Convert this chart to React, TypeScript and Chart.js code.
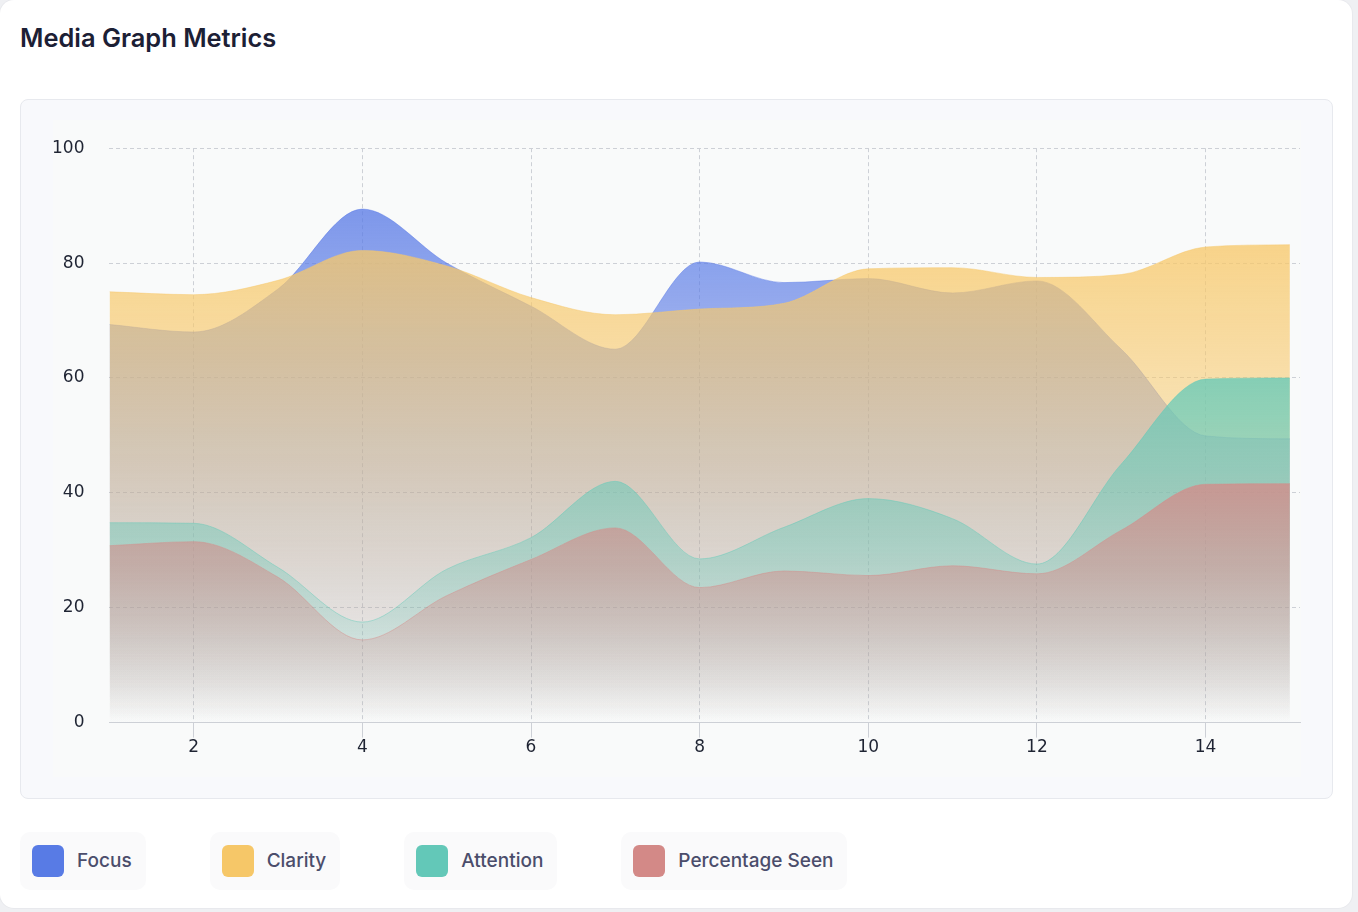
import { useEffect, useRef } from "react";
import { Chart, registerables } from "chart.js";

Chart.register(...registerables);

const xValues = [1, 2, 3, 4, 5, 6, 7, 8, 9, 10, 11, 12, 13, 14, 15];
const focus = [69.3, 68, 75.5, 89.4, 80, 72.5, 65, 80.2, 76.6, 77.3, 74.8, 76.9, 65, 49.9, 49.4];
const clarity = [75, 74.5, 77, 82.2, 79.5, 74, 71, 72, 73, 79, 79.2, 77.5, 78, 82.8, 83.2];
const attention = [34.8, 34.7, 27, 17.5, 26.7, 32.2, 42, 28.5, 34, 39, 35.5, 27.6, 45, 59.8, 60];
const percentageSeen = [30.8, 31.5, 25.3, 14.4, 22.1, 28.4, 33.9, 23.5, 26.4, 25.6, 27.3, 25.9, 33.5, 41.5, 41.6];
const yTicks = [0, 20, 40, 60, 80, 100];

const seriesNames = ["Focus", "Clarity", "Attention", "Percentage Seen"];
const seriesRgb = ["90,123,230", "247,200,106", "100,201,184", "212,138,136"];
const swatchColors = ["#587be5", "#f6c768", "#63c8b8", "#d38987"];

const gridColor = "#cdd0d6";
const tickFont = { family: "'DejaVu Sans', sans-serif", size: 17 };

// gradient runs from the series' own peak down to the x axis
function fillFor(rgb: string) {
  return (ctx: any) => {
    const chart = ctx.chart;
    const area = chart.chartArea;
    const yScale = chart.scales?.y;
    if (!area || !yScale) return `rgba(${rgb},0.5)`;
    const peak = Math.max(...ctx.dataset.data.map((p: any) => p.y));
    const top = yScale.getPixelForValue(peak);
    const g = chart.ctx.createLinearGradient(0, top, 0, area.bottom);
    g.addColorStop(0, `rgba(${rgb},0.78)`);
    g.addColorStop(1, `rgba(${rgb},0)`);
    return g;
  };
}

function MetricsChart() {
  const canvasRef = useRef<HTMLCanvasElement | null>(null);

  useEffect(() => {
    if (!canvasRef.current) return;
    const ctx = canvasRef.current.getContext("2d");
    if (!ctx) return;

    const series = [focus, clarity, attention, percentageSeen];

    const chart = new Chart(ctx, {
      type: "line",
      data: {
        datasets: series.map((values, i) => ({
          label: seriesNames[i],
          data: values.map((v, j) => ({ x: xValues[j], y: v })),
          // first series at the bottom of the stack, last on top
          order: series.length - i,
          fill: "origin",
          backgroundColor: fillFor(seriesRgb[i]),
          borderColor: `rgba(${seriesRgb[i]},0.45)`,
          borderWidth: 1,
          pointRadius: 0,
          pointHoverRadius: 0,
          cubicInterpolationMode: "monotone" as const,
        })),
      },
      options: {
        animation: false,
        responsive: true,
        maintainAspectRatio: false,
        layout: { padding: { top: 20, right: 1, bottom: 19, left: 0 } },
        plugins: {
          legend: { display: false },
          tooltip: { enabled: false },
        },
        scales: {
          x: {
            type: "linear",
            min: 1,
            max: 15.12,
            ticks: {
              stepSize: 2,
              includeBounds: false,
              color: "#1f2433",
              font: tickFont,
              padding: 0,
            },
            grid: {
              color: gridColor,
              tickColor: gridColor,
              tickLength: 15,
            },
            border: { display: true, color: "#cdd0d6", width: 1, dash: [4, 3] },
          },
          y: {
            min: 0,
            max: 100,
            afterBuildTicks: (axis: any) => {
              axis.ticks = yTicks.map((v) => ({ value: v }));
            },
            ticks: {
              color: "#1f2433",
              font: tickFont,
              padding: 25,
            },
            grid: {
              color: gridColor,
              drawTicks: false,
            },
            border: { display: false, dash: [4, 3] },
          },
        },
      },
    });
    return () => chart.destroy();
  }, []);

  return <canvas ref={canvasRef} />;
}

export default function App() {
  useEffect(() => {
    document.body.style.margin = "0";
    document.body.style.background = "#eff0f3";
  }, []);

  return (
    <div style={{ width: 1358, height: 912, position: "relative", fontFamily: "Inter, sans-serif" }}>
      <div
        style={{
          position: "absolute",
          left: 0,
          top: 0,
          width: 1352,
          height: 908,
          background: "#ffffff",
          borderRadius: 14,
          boxShadow: "0 0 0 1px #e8e9ed",
        }}
      >
        <div
          style={{
            position: "absolute",
            left: 20,
            top: 23,
            fontSize: 25.4,
            fontWeight: 600,
            color: "#1c2035",
            lineHeight: "30px",
          }}
        >
          Media Graph Metrics
        </div>
        <div
          style={{
            position: "absolute",
            left: 20,
            top: 99,
            width: 1313,
            height: 700,
            boxSizing: "border-box",
            background: "#f8f9fc",
            border: "1px solid #e7e9ee",
            borderRadius: 8,
          }}
        >
          <div
            style={{
              position: "absolute",
              left: 32,
              top: 20,
              width: 1248,
              height: 657,
              background: "#f9fafa",
            }}
          />
          <div
            style={{
              position: "absolute",
              left: 6,
              top: 13,
              width: 1274,
              height: 664,
            }}
          >
            <MetricsChart />
          </div>
        </div>
        <div style={{ position: "absolute", left: 20, top: 832, display: "flex", gap: 64 }}>
          {seriesNames.map((name, i) => (
            <div
              key={name}
              style={{
                display: "flex",
                alignItems: "center",
                background: "#fafafb",
                borderRadius: 10,
                padding: "13px 14px 13px 12px",
              }}
            >
              <div
                style={{
                  width: 32,
                  height: 32,
                  borderRadius: 6,
                  background: swatchColors[i],
                  marginRight: 13,
                }}
              />
              <span style={{ fontSize: 19, fontWeight: 500, color: "#4b4d6b", lineHeight: "32px" }}>{name}</span>
            </div>
          ))}
        </div>
      </div>
    </div>
  );
}
